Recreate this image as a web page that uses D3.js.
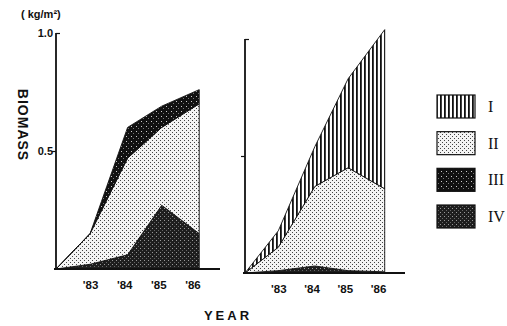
<!DOCTYPE html>
<html>
<head>
<meta charset="utf-8">
<script src="https://cdn.jsdelivr.net/npm/d3@7"></script>
<style>
  body { margin: 0; background: #fff; }
  svg { display: block; }
  .lbl { font-family: "Liberation Sans", Arial, sans-serif; font-weight: bold; fill: #111; }
  .roman { font-family: "Liberation Serif", "Times New Roman", serif; fill: #111; }
</style>
</head>
<body>
<svg width="507" height="326"></svg>
<script>
// sampling times (fractional years) and axis ticks
var sampleYears = [1982, 1983, 1984.1, 1985.1, 1986.2];
var tickYears = [1983, 1984, 1985, 1986];
var tickLabels = ["'83", "'84", "'85", "'86"];
var yTicks = [0.5, 1.0];

// left plot, bottom to top (kg/m2)
var leftIV  = [0, 0.02, 0.06, 0.27, 0.15];
var leftII  = [0, 0.13, 0.41, 0.33, 0.55];
var leftIII = [0, 0, 0.13, 0.09, 0.06];

// right plot, bottom to top
var rightIV = [0, 0.01, 0.03, 0.01, 0.005];
var rightII = [0, 0.10, 0.34, 0.44, 0.355];
var rightI  = [0, 0.07, 0.17, 0.38, 0.68];

var legendNames = ["I", "II", "III", "IV"];

var svg = d3.select("svg");
var defs = svg.append("defs");

// textures like the printed figure
var p = defs.append("pattern").attr("id", "pI").attr("patternUnits", "userSpaceOnUse")
  .attr("width", 4).attr("height", 4);
p.append("rect").attr("width", 4).attr("height", 4).attr("fill", "#fff");
p.append("rect").attr("width", 1.8).attr("height", 4).attr("fill", "#111");

p = defs.append("pattern").attr("id", "pII").attr("patternUnits", "userSpaceOnUse")
  .attr("width", 4).attr("height", 4);
p.append("rect").attr("width", 4).attr("height", 4).attr("fill", "#f4f4f4");
p.append("rect").attr("x", 0).attr("y", 0).attr("width", 1).attr("height", 1).attr("fill", "#444");
p.append("rect").attr("x", 2).attr("y", 2).attr("width", 1).attr("height", 1).attr("fill", "#444");

p = defs.append("pattern").attr("id", "pIII").attr("patternUnits", "userSpaceOnUse")
  .attr("width", 5).attr("height", 5);
p.append("rect").attr("width", 5).attr("height", 5).attr("fill", "#111");
p.append("rect").attr("x", 1).attr("y", 1).attr("width", 1).attr("height", 1).attr("fill", "#ccc");
p.append("rect").attr("x", 3).attr("y", 3).attr("width", 1).attr("height", 1).attr("fill", "#777");

p = defs.append("pattern").attr("id", "pIV").attr("patternUnits", "userSpaceOnUse")
  .attr("width", 4).attr("height", 4);
p.append("rect").attr("width", 4).attr("height", 4).attr("fill", "#1e1e1e");
p.append("rect").attr("x", 0).attr("y", 0).attr("width", 1).attr("height", 1).attr("fill", "#999");
p.append("rect").attr("x", 2).attr("y", 2).attr("width", 1).attr("height", 1).attr("fill", "#666");

var fills = { I: "url(#pI)", II: "url(#pII)", III: "url(#pIII)", IV: "url(#pIV)" };

function drawPanel(cfg) {
  var x = d3.scaleLinear().domain([1982, 1986.75]).range([cfg.x0, cfg.x1]);
  var y = d3.scaleLinear().domain([0, 1]).range([cfg.yb, cfg.yt]);
  var g = svg.append("g");

  var rows = sampleYears.map(function (t, i) {
    var r = { t: t };
    cfg.keys.forEach(function (k) { r[k] = cfg.series[k][i]; });
    return r;
  });
  var stack = d3.stack().keys(cfg.keys)(rows);
  var area = d3.area()
    .x(function (d) { return x(d.data.t); })
    .y0(function (d) { return y(d[0]); })
    .y1(function (d) { return y(d[1]); });

  g.selectAll("path.layer").data(stack).enter().append("path")
    .attr("class", "layer")
    .attr("d", area)
    .attr("fill", function (d) { return fills[d.key]; })
    .attr("stroke", "#111")
    .attr("stroke-width", 0.9)
    .attr("stroke-linejoin", "round");

  // bottom axis
  var xa = d3.axisBottom(x).tickValues(tickYears).tickSize(0)
    .tickFormat(function (d, i) { return tickLabels[i]; });
  var gx = g.append("g").attr("transform", "translate(0," + cfg.yb + ")").call(xa);
  gx.select(".domain").attr("stroke", "#111").attr("stroke-width", 1.8)
    .attr("d", "M" + (cfg.x0 - 2) + ",0H" + (cfg.x1 + 2));
  gx.selectAll("text").attr("class", "lbl").attr("font-size", 11.5).attr("dy", "1.1em")
    .attr("transform", "translate(0,4)");

  // left axis
  var ya = d3.axisLeft(y).tickValues(yTicks).tickSize(4)
    .tickFormat(cfg.labels ? d3.format(".1f") : "");
  var gy = g.append("g").attr("transform", "translate(" + cfg.x0 + ",0)").call(ya);
  gy.select(".domain").attr("stroke", "#111").attr("stroke-width", 1.8)
    .attr("d", "M0," + (cfg.yb + 1) + "V" + cfg.yt);
  gy.selectAll(".tick line").attr("stroke", "#111").attr("stroke-width", 1.2)
    .attr("x2", function (d) { return d === 1 ? 4 : -4; });
  gy.selectAll("text").attr("class", "lbl").attr("font-size", 11).attr("x", -3);
}

drawPanel({ x0: 56, x1: 218, yb: 269, yt: 33, labels: true,
  keys: ["IV", "II", "III"], series: { IV: leftIV, II: leftII, III: leftIII } });
drawPanel({ x0: 245, x1: 403, yb: 273, yt: 39, labels: false,
  keys: ["IV", "II", "I"], series: { IV: rightIV, II: rightII, I: rightI } });

// legend
var ly = d3.scalePoint().domain(legendNames).range([106, 216]);
var lg = svg.append("g");
lg.selectAll("rect").data(legendNames).enter().append("rect")
  .attr("x", 437).attr("y", function (d) { return ly(d) - 11; })
  .attr("width", 38).attr("height", 23)
  .attr("fill", function (d) { return fills[d]; })
  .attr("stroke", "#111").attr("stroke-width", 1.2);
lg.selectAll("text").data(legendNames).enter().append("text")
  .attr("class", "roman")
  .attr("x", 488).attr("y", function (d) { return ly(d) + 6; })
  .attr("font-size", 16)
  .text(function (d) { return d; });

// titles
svg.append("text").attr("class", "lbl").attr("x", 21).attr("y", 18)
  .attr("font-size", 11).text("( kg/m²)");
svg.append("text").attr("class", "lbl").attr("font-size", 14)
  .attr("text-anchor", "middle").attr("letter-spacing", 1)
  .attr("transform", "translate(18,125) rotate(90)").text("BIOMASS");
svg.append("text").attr("class", "lbl").attr("font-size", 13)
  .attr("text-anchor", "middle").attr("letter-spacing", 3)
  .attr("x", 228).attr("y", 320).text("YEAR");
</script>
</body>
</html>
